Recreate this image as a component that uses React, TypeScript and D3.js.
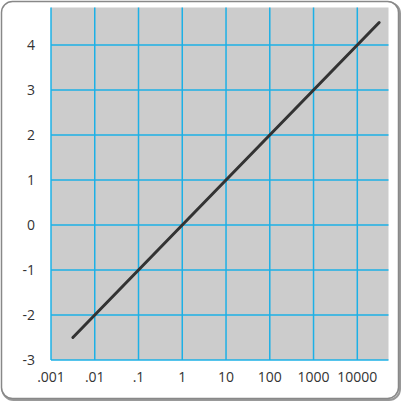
import React, { useEffect, useRef } from 'react';
import * as d3 from 'd3';

// tick values and their labels
const xTicks = [0.001, 0.01, 0.1, 1, 10, 100, 1000, 10000];
const xTickLabels = ['.001', '.01', '.1', '1', '10', '100', '1000', '10000'];
const yTicks = [-3, -2, -1, 0, 1, 2, 3, 4];

// the plotted line, y = log10(x)
const lineX = [0.00316, 31623];
const lineY = [-2.5, 4.5];

const App: React.FC = () => {
  const svgRef = useRef<SVGSVGElement | null>(null);

  useEffect(() => {
    if (!svgRef.current) return;
    const svg = d3.select(svgRef.current);
    svg.selectAll('*').remove();

    const width = 402;
    const height = 402;
    const plot = { left: 51, top: 7.5, right: 388.5, bottom: 360 };
    const font = '"Open Sans", sans-serif';

    // frame with soft shadow
    svg.append('rect')
      .attr('x', 2.5).attr('y', 2.5)
      .attr('width', width - 4.5).attr('height', height - 4.5)
      .attr('rx', 11)
      .attr('fill', 'none')
      .attr('stroke', '#999')
      .attr('stroke-width', 2);
    svg.append('rect')
      .attr('x', 1.5).attr('y', 1.5)
      .attr('width', width - 5).attr('height', height - 5)
      .attr('rx', 11)
      .attr('fill', '#fff')
      .attr('stroke', '#888')
      .attr('stroke-width', 1.5);

    const x = d3.scaleLog()
      .domain([0.001, 10000])
      .range([51, 357.3]);

    const y = d3.scaleLinear()
      .domain([-3, 4])
      .range([360, 45]);

    svg.append('rect')
      .attr('x', plot.left).attr('y', plot.top)
      .attr('width', plot.right - plot.left)
      .attr('height', plot.bottom - plot.top)
      .attr('fill', '#cccccc');

    const grid = svg.append('g')
      .attr('stroke', '#1cb0e6')
      .attr('stroke-width', 1.5);

    grid.selectAll('line.v')
      .data(xTicks)
      .join('line')
      .attr('class', 'v')
      .attr('x1', d => x(d)).attr('x2', d => x(d))
      .attr('y1', plot.top).attr('y2', plot.bottom);

    grid.selectAll('line.h')
      .data(yTicks)
      .join('line')
      .attr('class', 'h')
      .attr('x1', plot.left).attr('x2', plot.right)
      .attr('y1', d => y(d)).attr('y2', d => y(d));

    // line
    const pts = lineX.map((v, i) => [v, lineY[i]] as [number, number]);
    const line = d3.line<[number, number]>()
      .x(d => x(d[0]))
      .y(d => y(d[1]));

    svg.append('path')
      .datum(pts)
      .attr('fill', 'none')
      .attr('stroke', '#333')
      .attr('stroke-width', 3)
      .attr('stroke-linecap', 'round')
      .attr('d', line);

    // axis labels
    svg.append('g')
      .selectAll('text')
      .data(yTicks)
      .join('text')
      .attr('x', 35)
      .attr('y', d => y(d))
      .attr('dy', '0.36em')
      .attr('text-anchor', 'end')
      .attr('font-family', font)
      .attr('font-size', 14)
      .attr('fill', '#333')
      .text(d => String(d));

    svg.append('g')
      .selectAll('text')
      .data(xTicks)
      .join('text')
      .attr('x', d => x(d))
      .attr('y', 382)
      .attr('text-anchor', 'middle')
      .attr('font-family', font)
      .attr('font-size', 14)
      .attr('fill', '#333')
      .text((d, i) => xTickLabels[i]);
  }, []);

  return (
    <div style={{ position: 'absolute', left: 0, top: 0 }}>
      <svg ref={svgRef} width={402} height={402} style={{ display: 'block' }} />
    </div>
  );
};

export default App;
